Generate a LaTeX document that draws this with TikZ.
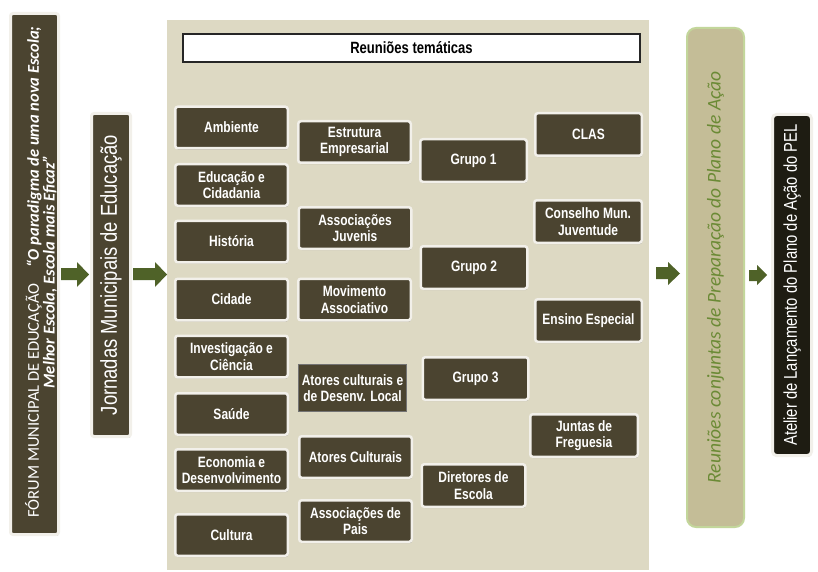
\documentclass[tikz,border=0pt]{standalone}
\usepackage{fontspec}
\setmainfont{Liberation Sans}
\newfontfamily\narrow{Liberation Sans}[FakeStretch=0.8]
\newfontfamily\calib{Carlito}
\usetikzlibrary{shadows}
\definecolor{boxfill}{HTML}{4B4430}
\definecolor{panelc}{HTML}{DDD9C3}
\definecolor{arrowc}{HTML}{4F6228}
\definecolor{conjfill}{HTML}{C4BD97}
\definecolor{conjedge}{HTML}{C3D69B}
\definecolor{conjtext}{HTML}{6B8A35}
\definecolor{atelfill}{HTML}{1E1C12}
\definecolor{boxedge}{HTML}{F2F0EA}
\tikzset{
  shad/.style={drop shadow={shadow xshift=0.6pt, shadow yshift=-1.4pt, opacity=0.35, fill=black!70}},
  dbox/.style={draw=boxedge, line width=2.5pt, fill=boxfill, rounded corners=2.5pt, text=white,
    font=\narrow\bfseries\fontsize{15}{16.5}\selectfont, align=center, inner sep=0pt, shad},
  plainbox/.style={draw=black!55, line width=0.8pt, fill=boxfill, text=white,
    font=\narrow\bfseries\fontsize{15}{16.5}\selectfont, align=center, inner sep=0pt},
  vbox/.style={draw=boxedge, line width=3pt, fill=boxfill, rounded corners=2.5pt, text=white,
    align=center, inner sep=0pt, rotate=90, shad},
  vtext/.style={text=white, align=center, inner sep=0pt, rotate=90},
  titlebox/.style={draw=black!85, line width=2pt, fill=white, inner sep=0pt,
    font=\narrow\bfseries\fontsize{16.3}{18}\selectfont, shad},
  conjbox/.style={draw=conjedge, line width=2pt, fill=conjfill, rounded corners=9pt, rotate=90,
    text=conjtext, font=\calib\itshape\fontsize{19.5}{22}\selectfont, inner sep=0pt},
  atelbox/.style={draw=boxedge, line width=3pt, fill=atelfill, rounded corners=4pt, rotate=90,
    text=white, font=\narrow\fontsize{18.5}{21}\selectfont, inner sep=0pt, shad},
}
% name, cx, cy, outer w, outer h, text
\newcommand\bx[7][dbox]{\node[#1, minimum width={#5pt-2.5pt}, minimum height={#6pt-2.5pt}] (#2) at (#3,#4) {#7};}
% x1, xtip, xhead, ytop, ybot, shaft top, shaft bottom
\newcommand\barrow[7]{\fill[arrowc] (#1,#6) -- (#3,#6) -- (#3,#4) -- (#2,{(#4+#5)/2}) -- (#3,#5) -- (#3,#7) -- (#1,#7) -- cycle;}
\begin{document}
\begin{tikzpicture}[x=1pt,y=-1pt]
\useasboundingbox (0,0) rectangle (818,572);
\fill[white] (0,0) rectangle (818,572);
% panel
\node[fill=panelc, minimum width=482pt, minimum height=550pt, inner sep=0pt] (panel) at (408,295) {};
\node[titlebox, minimum width=457pt, minimum height=28pt] (title) at (411.5,48) {Reuniões temáticas};
% left vertical boxes
\node[vbox, minimum width=521pt, minimum height=48pt] (forum) at (34.5,274) {};
\node[vtext] (forumtxt) at (41,272)
  {\calib\fontsize{16.5}{14.5}\selectfont FÓRUM MUNICIPAL DE EDUCAÇÃO\quad{\bfseries\itshape “O paradigma de uma nova Escola;}\\
   {\calib\bfseries\itshape\fontsize{16.5}{14.5}\selectfont Melhor Escola, Escola mais Eficaz”}};
\node[vbox, minimum width=323pt, minimum height=39pt] (jorn) at (111,275)
  {\narrow\fontsize{23}{26}\selectfont Jornadas Municipais de Educação};
% column 1
\bx{amb}{231.5}{127.5}{115}{44}{Ambiente}
\bx{edu}{231.5}{185}{115}{44}{Educação e\\Cidadania}
\bx{hist}{231.5}{241.5}{115}{44}{História}
\bx{cid}{231.5}{299.5}{115}{44}{Cidade}
\bx{inv}{231.5}{356.5}{115}{44}{Investigação e\\Ciência}
\bx{sau}{231.5}{414}{115}{44}{Saúde}
\bx{eco}{231.5}{470}{115}{44}{Economia e\\Desenvolvimento}
\bx{cul}{231.5}{535}{115}{44}{Cultura}
% column 2
\bx{est}{354.5}{142}{115}{44}{Estrutura\\Empresarial}
\bx{asj}{355}{228}{115}{44}{Associações\\Juvenis}
\bx{mov}{354.5}{299.5}{115}{44}{Movimento\\Associativo}
\bx[plainbox]{atl}{352.5}{388}{111}{50}{Atores culturais e\\de Desenv. Local}
\bx{atc}{355.5}{457}{115}{44}{Atores Culturais}
\bx{asp}{355.5}{521}{115}{44}{Associações de\\Pais}
% column 3
\bx{g1}{473.5}{160.5}{109}{45}{Grupo 1}
\bx{g2}{474}{267.5}{109}{45}{Grupo 2}
\bx{g3}{475.5}{378.5}{108}{45}{Grupo 3}
\bx{dir}{473.5}{485.5}{106}{45}{Diretores de\\Escola}
% column 4
\bx{clas}{588.5}{134.5}{109}{45}{CLAS}
\bx{cmj}{588}{221.5}{110}{45}{Conselho Mun.\\Juventude}
\bx{ens}{588.5}{320.5}{109}{45}{Ensino Especial}
\bx{jun}{584}{435.5}{110}{45}{Juntas de\\Freguesia}
% right vertical boxes
\node[conjbox, minimum width=499pt, minimum height=57pt] (conj) at (715.5,277.5)
  {Reuniões conjuntas de Preparação do Plano de Ação};
\node[atelbox, minimum width=341pt, minimum height=39pt] (atel) at (792,285)
  {Atelier de Lançamento do Plano de Ação do PEL};
% block arrows
\barrow{61}{89}{77}{262}{287}{268}{280}
\barrow{133}{167}{155}{262}{287}{268}{280}
\barrow{656}{680}{668}{262}{285}{267}{279}
\barrow{749}{767}{757}{265}{285}{270}{281}
\end{tikzpicture}
\end{document}
